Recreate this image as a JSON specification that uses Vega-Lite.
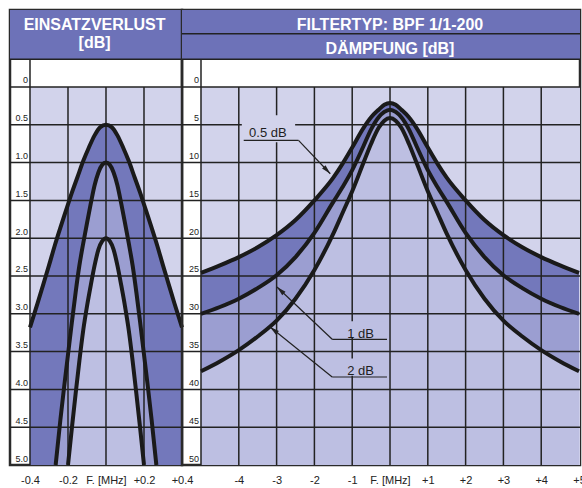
{
  "$schema": "https://vega.github.io/schema/vega-lite/v6.json",
  "padding": {"left": 8, "top": 8, "right": 0, "bottom": 0},
  "background": "white",
  "bounds": "flush",
  "spacing": 0,
  "config": {
    "font": "Liberation Sans",
    "view": {"stroke": "#2a2a2a", "strokeWidth": 2.5}
  },
  "datasets": {
    "Lcurve": [
      {"c":"O","x":-0.4,"y":3.18},{"c":"O","x":-0.36,"y":2.86},{"c":"O","x":-0.33,"y":2.61},{"c":"O","x":-0.3,"y":2.36},{"c":"O","x":-0.27,"y":2.1},{"c":"O","x":-0.24,"y":1.86},{"c":"O","x":-0.21,"y":1.63},{"c":"O","x":-0.18,"y":1.4},{"c":"O","x":-0.15,"y":1.19},{"c":"O","x":-0.12,"y":0.98},{"c":"O","x":-0.09,"y":0.8},{"c":"O","x":-0.06,"y":0.64},{"c":"O","x":-0.03,"y":0.53},{"c":"O","x":0,"y":0.5},
      {"c":"O","x":0.03,"y":0.53},{"c":"O","x":0.06,"y":0.64},{"c":"O","x":0.09,"y":0.8},{"c":"O","x":0.12,"y":0.98},{"c":"O","x":0.15,"y":1.19},{"c":"O","x":0.18,"y":1.4},{"c":"O","x":0.21,"y":1.63},{"c":"O","x":0.24,"y":1.86},{"c":"O","x":0.27,"y":2.1},{"c":"O","x":0.3,"y":2.36},{"c":"O","x":0.33,"y":2.61},{"c":"O","x":0.36,"y":2.86},{"c":"O","x":0.4,"y":3.18},
      {"c":"M","x":-0.265,"y":5.0},{"c":"M","x":-0.24,"y":4.4},{"c":"M","x":-0.22,"y":3.96},{"c":"M","x":-0.2,"y":3.54},{"c":"M","x":-0.18,"y":3.12},{"c":"M","x":-0.16,"y":2.72},{"c":"M","x":-0.14,"y":2.36},{"c":"M","x":-0.12,"y":2.07},{"c":"M","x":-0.1,"y":1.8},{"c":"M","x":-0.08,"y":1.54},{"c":"M","x":-0.06,"y":1.3},{"c":"M","x":-0.04,"y":1.13},{"c":"M","x":-0.02,"y":1.03},{"c":"M","x":0,"y":1.0},
      {"c":"M","x":0.02,"y":1.03},{"c":"M","x":0.04,"y":1.13},{"c":"M","x":0.06,"y":1.3},{"c":"M","x":0.08,"y":1.54},{"c":"M","x":0.1,"y":1.8},{"c":"M","x":0.12,"y":2.07},{"c":"M","x":0.14,"y":2.36},{"c":"M","x":0.16,"y":2.72},{"c":"M","x":0.18,"y":3.12},{"c":"M","x":0.2,"y":3.54},{"c":"M","x":0.22,"y":3.96},{"c":"M","x":0.24,"y":4.4},{"c":"M","x":0.265,"y":5.0},
      {"c":"I","x":-0.2,"y":5.0},{"c":"I","x":-0.18,"y":4.52},{"c":"I","x":-0.16,"y":4.06},{"c":"I","x":-0.14,"y":3.62},{"c":"I","x":-0.12,"y":3.22},{"c":"I","x":-0.1,"y":2.9},{"c":"I","x":-0.08,"y":2.62},{"c":"I","x":-0.06,"y":2.36},{"c":"I","x":-0.04,"y":2.15},{"c":"I","x":-0.02,"y":2.04},{"c":"I","x":0,"y":2.0},
      {"c":"I","x":0.02,"y":2.04},{"c":"I","x":0.04,"y":2.15},{"c":"I","x":0.06,"y":2.36},{"c":"I","x":0.08,"y":2.62},{"c":"I","x":0.1,"y":2.9},{"c":"I","x":0.12,"y":3.22},{"c":"I","x":0.14,"y":3.62},{"c":"I","x":0.16,"y":4.06},{"c":"I","x":0.18,"y":4.52},{"c":"I","x":0.2,"y":5.0}
    ],
    "Lrect": [
      {"k":"head","x":-0.50526,"y":-1.0185,"x2":0.4,"y2":-0.366},
      {"k":"bg","x":-0.4,"y":0,"x2":0.4,"y2":5}
    ],
    "Lgrid": [
      {"x":-0.4,"y":-0.366,"x2":-0.4,"y2":5},
      {"x":-0.2,"y":0,"x2":-0.2,"y2":5},
      {"x":0,"y":0,"x2":0,"y2":5},
      {"x":0.2,"y":0,"x2":0.2,"y2":5},
      {"x":-0.50526,"y":-0.366,"x2":0.4,"y2":-0.366},
      {"x":-0.50526,"y":0,"x2":0.4,"y2":0},
      {"x":-0.50526,"y":0.5,"x2":0.4,"y2":0.5},
      {"x":-0.50526,"y":1,"x2":0.4,"y2":1},
      {"x":-0.50526,"y":1.5,"x2":0.4,"y2":1.5},
      {"x":-0.50526,"y":2,"x2":0.4,"y2":2},
      {"x":-0.50526,"y":2.5,"x2":0.4,"y2":2.5},
      {"x":-0.50526,"y":3,"x2":0.4,"y2":3},
      {"x":-0.50526,"y":3.5,"x2":0.4,"y2":3.5},
      {"x":-0.50526,"y":4,"x2":0.4,"y2":4},
      {"x":-0.50526,"y":4.5,"x2":0.4,"y2":4.5}
    ],
    "Ltext": [
      {"k":"h","t":"EINSATZVERLUST","x":-0.06,"y":-0.75},
      {"k":"h","t":"[dB]","x":-0.06,"y":-0.516},
      {"k":"y","t":"0","x":-0.4,"y":0},
      {"k":"y","t":"0.5","x":-0.4,"y":0.5},
      {"k":"y","t":"1.0","x":-0.4,"y":1},
      {"k":"y","t":"1.5","x":-0.4,"y":1.5},
      {"k":"y","t":"2.0","x":-0.4,"y":2},
      {"k":"y","t":"2.5","x":-0.4,"y":2.5},
      {"k":"y","t":"3.0","x":-0.4,"y":3},
      {"k":"y","t":"3.5","x":-0.4,"y":3.5},
      {"k":"y","t":"4.0","x":-0.4,"y":4},
      {"k":"y","t":"4.5","x":-0.4,"y":4.5},
      {"k":"y","t":"5.0","x":-0.4,"y":5}
    ],
    "Rcurve": [
      {"c":"T","x":-5,"y":24.6},{"c":"T","x":-4.5,"y":23.6},{"c":"T","x":-4,"y":22.5},{"c":"T","x":-3.5,"y":21.2},{"c":"T","x":-3,"y":19.6},{"c":"T","x":-2.5,"y":17.6},{"c":"T","x":-2,"y":15.0},{"c":"T","x":-1.5,"y":12.0},{"c":"T","x":-1.25,"y":10.1},{"c":"T","x":-1,"y":8.0},{"c":"T","x":-0.7,"y":5.4},{"c":"T","x":-0.5,"y":4.0},{"c":"T","x":-0.3,"y":3.0},{"c":"T","x":-0.15,"y":2.35},{"c":"T","x":0,"y":2.1},
      {"c":"T","x":0.15,"y":2.35},{"c":"T","x":0.3,"y":3.0},{"c":"T","x":0.5,"y":4.0},{"c":"T","x":0.7,"y":5.4},{"c":"T","x":1,"y":8.0},{"c":"T","x":1.25,"y":10.1},{"c":"T","x":1.5,"y":12.0},{"c":"T","x":2,"y":15.0},{"c":"T","x":2.5,"y":17.6},{"c":"T","x":3,"y":19.6},{"c":"T","x":3.5,"y":21.2},{"c":"T","x":4,"y":22.5},{"c":"T","x":4.5,"y":23.6},{"c":"T","x":5,"y":24.6},
      {"c":"M","x":-5,"y":30.0},{"c":"M","x":-4.5,"y":29.1},{"c":"M","x":-4,"y":28.0},{"c":"M","x":-3.5,"y":26.6},{"c":"M","x":-3,"y":24.9},{"c":"M","x":-2.5,"y":22.5},{"c":"M","x":-2,"y":19.3},{"c":"M","x":-1.5,"y":15.2},{"c":"M","x":-1.25,"y":13.2},{"c":"M","x":-1,"y":11.0},{"c":"M","x":-0.7,"y":7.8},{"c":"M","x":-0.5,"y":5.6},{"c":"M","x":-0.3,"y":4.0},{"c":"M","x":-0.15,"y":3.3},{"c":"M","x":0,"y":3.0},
      {"c":"M","x":0.15,"y":3.3},{"c":"M","x":0.3,"y":4.0},{"c":"M","x":0.5,"y":5.6},{"c":"M","x":0.7,"y":7.8},{"c":"M","x":1,"y":11.0},{"c":"M","x":1.25,"y":13.2},{"c":"M","x":1.5,"y":15.2},{"c":"M","x":2,"y":19.3},{"c":"M","x":2.5,"y":22.5},{"c":"M","x":3,"y":24.9},{"c":"M","x":3.5,"y":26.6},{"c":"M","x":4,"y":28.0},{"c":"M","x":4.5,"y":29.1},{"c":"M","x":5,"y":30.0},
      {"c":"B","x":-5,"y":37.6},{"c":"B","x":-4.5,"y":36.3},{"c":"B","x":-4,"y":34.8},{"c":"B","x":-3.5,"y":33.0},{"c":"B","x":-3,"y":30.9},{"c":"B","x":-2.5,"y":28.0},{"c":"B","x":-2,"y":24.2},{"c":"B","x":-1.5,"y":19.4},{"c":"B","x":-1.25,"y":16.6},{"c":"B","x":-1,"y":13.8},{"c":"B","x":-0.7,"y":10.0},{"c":"B","x":-0.5,"y":7.5},{"c":"B","x":-0.3,"y":5.4},{"c":"B","x":-0.15,"y":4.45},{"c":"B","x":0,"y":4.1},
      {"c":"B","x":0.15,"y":4.45},{"c":"B","x":0.3,"y":5.4},{"c":"B","x":0.5,"y":7.5},{"c":"B","x":0.7,"y":10.0},{"c":"B","x":1,"y":13.8},{"c":"B","x":1.25,"y":16.6},{"c":"B","x":1.5,"y":19.4},{"c":"B","x":2,"y":24.2},{"c":"B","x":2.5,"y":28.0},{"c":"B","x":3,"y":30.9},{"c":"B","x":3.5,"y":33.0},{"c":"B","x":4,"y":34.8},{"c":"B","x":4.5,"y":36.3},{"c":"B","x":5,"y":37.6}
    ],
    "Rrect": [
      {"k":"head","x":-5.5026,"y":-10.185,"x2":5.026,"y2":-3.66},
      {"k":"bg","x":-5,"y":0,"x2":5.026,"y2":50},
      {"k":"A","x":-3.92,"y":3.75,"x2":-2.51,"y2":7.3},
      {"k":"B","x":-1.4,"y":31.0,"x2":-0.08,"y2":33.2},
      {"k":"B","x":-1.4,"y":35.9,"x2":-0.08,"y2":38.2}
    ],
    "Rgrid": [
      {"x":-5,"y":-3.66,"x2":-5,"y2":50},
      {"x":-4,"y":0,"x2":-4,"y2":50},
      {"x":-3,"y":0,"x2":-3,"y2":50},
      {"x":-2,"y":0,"x2":-2,"y2":50},
      {"x":-1,"y":0,"x2":-1,"y2":50},
      {"x":0,"y":0,"x2":0,"y2":50},
      {"x":1,"y":0,"x2":1,"y2":50},
      {"x":2,"y":0,"x2":2,"y2":50},
      {"x":3,"y":0,"x2":3,"y2":50},
      {"x":4,"y":0,"x2":4,"y2":50},
      {"x":-5.5026,"y":-7.05,"x2":5.026,"y2":-7.05},
      {"x":-5.5026,"y":-3.66,"x2":5.026,"y2":-3.66},
      {"x":-5.5026,"y":0,"x2":5.026,"y2":0},
      {"x":-5.5026,"y":5,"x2":5.026,"y2":5},
      {"x":-5.5026,"y":10,"x2":5.026,"y2":10},
      {"x":-5.5026,"y":15,"x2":5.026,"y2":15},
      {"x":-5.5026,"y":20,"x2":5.026,"y2":20},
      {"x":-5.5026,"y":25,"x2":5.026,"y2":25},
      {"x":-5.5026,"y":30,"x2":5.026,"y2":30},
      {"x":-5.5026,"y":35,"x2":5.026,"y2":35},
      {"x":-5.5026,"y":40,"x2":5.026,"y2":40},
      {"x":-5.5026,"y":45,"x2":5.026,"y2":45}
    ],
    "Rlead": [
      {"x":-3.87,"y":7.05,"x2":-2.42,"y2":7.05},
      {"x":-2.42,"y":7.05,"x2":-1.58,"y2":11.47},
      {"x":-1.53,"y":33.37,"x2":-0.08,"y2":33.37},
      {"x":-1.53,"y":33.37,"x2":-2.99,"y2":26.46},
      {"x":-1.53,"y":38.36,"x2":-0.08,"y2":38.36},
      {"x":-1.53,"y":38.36,"x2":-3.17,"y2":31.75}
    ],
    "Rarrow": [
      {"a":"a05","x":-1.665,"y":11.01},
      {"a":"a1","x":-2.898,"y":26.89},
      {"a":"a2","x":-3.077,"y":32.14}
    ],
    "Rtext": [
      {"k":"h","t":"FILTERTYP: BPF 1/1-200","x":0,"y":-7.5},
      {"k":"h","t":"DÄMPFUNG [dB]","x":0,"y":-4.33},
      {"k":"y","t":"0","x":-5,"y":0},
      {"k":"y","t":"5","x":-5,"y":5},
      {"k":"y","t":"10","x":-5,"y":10},
      {"k":"y","t":"15","x":-5,"y":15},
      {"k":"y","t":"20","x":-5,"y":20},
      {"k":"y","t":"25","x":-5,"y":25},
      {"k":"y","t":"30","x":-5,"y":30},
      {"k":"y","t":"35","x":-5,"y":35},
      {"k":"y","t":"40","x":-5,"y":40},
      {"k":"y","t":"45","x":-5,"y":45},
      {"k":"y","t":"50","x":-5,"y":50},
      {"k":"a","t":"0.5 dB","x":-3.23,"y":6.6},
      {"k":"a","t":"1 dB","x":-0.78,"y":33.2},
      {"k":"a","t":"2 dB","x":-0.78,"y":38.1}
    ]
  },
  "hconcat": [
    {
      "width": 172,
      "height": 455,
      "encoding": {
        "x": {"field":"x","type":"quantitative","scale":{"domain":[-0.50526,0.4],"nice":false,"zero":false},
          "axis":{"title":null,"values":[-0.4,-0.2,0,0.2,0.4],"ticks":false,"domain":false,"grid":false,"labelFontSize":11,"labelColor":"#222","labelPadding":9,"labelFlush":false,"labelOverlap":false,"labelBound":false,
            "labelExpr":"datum.value == 0 ? 'F. [MHz]' : (datum.value > 0 ? '+' + toString(datum.value) : toString(datum.value))"}},
        "y": {"field":"y","type":"quantitative","scale":{"domain":[-1.0185,5],"reverse":true,"nice":false,"zero":false},"axis":null}
      },
      "layer": [
        {"data":{"name":"Lrect"},"transform":[{"filter":"datum.k=='head'"}],"mark":{"type":"rect","color":"#6d72b8"},"encoding":{"x2":{"field":"x2"},"y2":{"field":"y2"}}},
        {"data":{"name":"Lrect"},"transform":[{"filter":"datum.k=='bg'"}],"mark":{"type":"rect","color":"#d2d3eb"},"encoding":{"x2":{"field":"x2"},"y2":{"field":"y2"}}},
        {"data":{"name":"Lcurve"},"transform":[{"filter":"datum.c=='O'"}],"mark":{"type":"area","color":"#7378bb","interpolate":"monotone","opacity":1},"encoding":{"y2":{"datum":5}}},
        {"data":{"name":"Lcurve"},"transform":[{"filter":"datum.c=='M'"}],"mark":{"type":"area","color":"#9b9ed1","interpolate":"monotone","opacity":1},"encoding":{"y2":{"datum":5}}},
        {"data":{"name":"Lcurve"},"transform":[{"filter":"datum.c=='I'"}],"mark":{"type":"area","color":"#bdbfe2","interpolate":"monotone","opacity":1},"encoding":{"y2":{"datum":5}}},
        {"data":{"name":"Lgrid"},"mark":{"type":"rule","color":"#222","strokeWidth":1.5},"encoding":{"x2":{"field":"x2"},"y2":{"field":"y2"}}},
        {"data":{"name":"Lcurve"},"mark":{"type":"line","color":"#1a1a1a","strokeWidth":4,"interpolate":"monotone"},"encoding":{"detail":{"field":"c"}}},
        {"data":{"name":"Ltext"},"transform":[{"filter":"datum.k=='h'"}],"mark":{"type":"text","color":"white","fontWeight":"bold","fontSize":16,"align":"center","baseline":"alphabetic"},"encoding":{"text":{"field":"t"}}},
        {"data":{"name":"Ltext"},"transform":[{"filter":"datum.k=='y'"}],"mark":{"type":"text","color":"#222","fontSize":9,"align":"right","baseline":"alphabetic","dx":-2,"dy":-3.5},"encoding":{"text":{"field":"t"}}}
      ]
    },
    {
      "width": 398,
      "height": 455,
      "encoding": {
        "x": {"field":"x","type":"quantitative","scale":{"domain":[-5.5026,5.026],"nice":false,"zero":false},
          "axis":{"title":null,"values":[-4,-3,-2,-1,0,1,2,3,4,5],"ticks":false,"domain":false,"grid":false,"labelFontSize":11,"labelColor":"#222","labelPadding":9,"labelFlush":false,"labelOverlap":false,"labelBound":false,
            "labelExpr":"datum.value == 0 ? 'F. [MHz]' : (datum.value > 0 ? '+' + toString(datum.value) : toString(datum.value))"}},
        "y": {"field":"y","type":"quantitative","scale":{"domain":[-10.185,50],"reverse":true,"nice":false,"zero":false},"axis":null}
      },
      "layer": [
        {"data":{"name":"Rrect"},"transform":[{"filter":"datum.k=='head'"}],"mark":{"type":"rect","color":"#6d72b8"},"encoding":{"x2":{"field":"x2"},"y2":{"field":"y2"}}},
        {"data":{"name":"Rrect"},"transform":[{"filter":"datum.k=='bg'"}],"mark":{"type":"rect","color":"#d2d3eb"},"encoding":{"x2":{"field":"x2"},"y2":{"field":"y2"}}},
        {"data":{"name":"Rcurve"},"transform":[{"filter":"datum.c=='T'"}],"mark":{"type":"area","color":"#7378bb","interpolate":"monotone","opacity":1},"encoding":{"y2":{"datum":50}}},
        {"data":{"name":"Rcurve"},"transform":[{"filter":"datum.c=='M'"}],"mark":{"type":"area","color":"#9b9ed1","interpolate":"monotone","opacity":1},"encoding":{"y2":{"datum":50}}},
        {"data":{"name":"Rcurve"},"transform":[{"filter":"datum.c=='B'"}],"mark":{"type":"area","color":"#bdbfe2","interpolate":"monotone","opacity":1},"encoding":{"y2":{"datum":50}}},
        {"data":{"name":"Rgrid"},"mark":{"type":"rule","color":"#222","strokeWidth":1.5},"encoding":{"x2":{"field":"x2"},"y2":{"field":"y2"}}},
        {"data":{"name":"Rrect"},"transform":[{"filter":"datum.k=='A'"}],"mark":{"type":"rect","color":"#d2d3eb"},"encoding":{"x2":{"field":"x2"},"y2":{"field":"y2"}}},
        {"data":{"name":"Rrect"},"transform":[{"filter":"datum.k=='B'"}],"mark":{"type":"rect","color":"#bdbfe2"},"encoding":{"x2":{"field":"x2"},"y2":{"field":"y2"}}},
        {"data":{"name":"Rcurve"},"mark":{"type":"line","color":"#1a1a1a","strokeWidth":4,"interpolate":"monotone"},"encoding":{"detail":{"field":"c"}}},
        {"data":{"name":"Rlead"},"mark":{"type":"rule","color":"#222","strokeWidth":1.2},"encoding":{"x2":{"field":"x2"},"y2":{"field":"y2"}}},
        {"data":{"name":"Rarrow"},"transform":[{"filter":"datum.a=='a05'"}],"mark":{"type":"point","shape":"M0,-1L0.5,1L-0.5,1Z","filled":true,"color":"#222","size":90,"angle":136.6,"opacity":1}},
        {"data":{"name":"Rarrow"},"transform":[{"filter":"datum.a=='a1'"}],"mark":{"type":"point","shape":"M0,-1L0.5,1L-0.5,1Z","filled":true,"color":"#222","size":90,"angle":313.6,"opacity":1}},
        {"data":{"name":"Rarrow"},"transform":[{"filter":"datum.a=='a2'"}],"mark":{"type":"point","shape":"M0,-1L0.5,1L-0.5,1Z","filled":true,"color":"#222","size":90,"angle":308.9,"opacity":1}},
        {"data":{"name":"Rtext"},"transform":[{"filter":"datum.k=='h'"}],"mark":{"type":"text","color":"white","fontWeight":"bold","fontSize":16,"align":"center","baseline":"alphabetic"},"encoding":{"text":{"field":"t"}}},
        {"data":{"name":"Rtext"},"transform":[{"filter":"datum.k=='y'"}],"mark":{"type":"text","color":"#222","fontSize":9,"align":"right","baseline":"alphabetic","dx":-2,"dy":-3.5},"encoding":{"text":{"field":"t"}}},
        {"data":{"name":"Rtext"},"transform":[{"filter":"datum.k=='a'"}],"mark":{"type":"text","color":"#1e1e1e","fontSize":13,"align":"center","baseline":"alphabetic"},"encoding":{"text":{"field":"t"}}}
      ]
    }
  ]
}
